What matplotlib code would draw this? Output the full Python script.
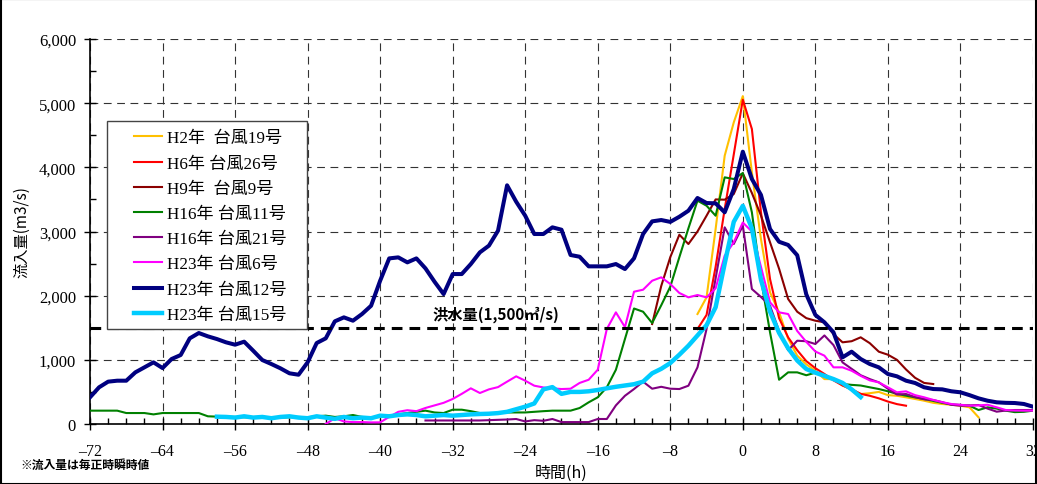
import matplotlib
matplotlib.use("Agg")
import matplotlib.pyplot as plt
from matplotlib.ticker import MultipleLocator, FuncFormatter
from matplotlib.patches import Rectangle

plt.rcParams['font.family'] = ['Liberation Serif', 'Noto Sans CJK JP', 'DejaVu Sans']

# ---------------- data ----------------
series_labels = ["H2年  台風19号", "H6年 台風26号", "H9年  台風9号", "H16年 台風11号",
                 "H16年 台風21号", "H23年 台風6号", "H23年 台風12号", "H23年 台風15号"]
series_colors = ["#FFC000", "#FF0000", "#8B0000", "#008000",
                 "#800080", "#FF00FF", "#000080", "#00CCFF"]

h2_start = -5
h2_19 = [1714, 1974, 3039, 4181, 4700, 5110, 3922, 2883, 2052, 1740, 1330, 1065, 930, 830, 700, 700,
         600, 540, 467, 480, 500, 450, 440, 416, 390, 363, 330, 312, 300, 285, 260, 104]

h6_start = -5
h6_26 = [1480, 1700, 2450, 3350, 4200, 5054, 4597, 3300, 2260, 1650, 1350, 1150, 980, 870, 780, 680,
         600, 540, 470, 440, 400, 350, 310, 285]

h9_start = -10
h9_9 = [1558, 2150, 2600, 2950, 2805, 3000, 3246, 3500, 3496, 3584,
        3907, 3600, 3250, 2832, 2420, 1948, 1750, 1650, 1610, 1585,
        1400, 1273, 1290, 1351, 1260, 1127, 1080, 1000, 850, 720, 640, 623]

h16_11_start = -72
h16_11 = [208, 208, 208, 208, 171, 171, 171, 150, 171, 171,
          171, 171, 171, 120, 115, 110, 110, 105, 105, 100,
          105, 100, 105, 110, 105, 120, 130, 110, 120, 140,
          110, 100, 110, 130, 150, 171, 190, 208, 180, 171,
          223, 223, 200, 171, 171, 171, 180, 180, 180, 190,
          200, 208, 208, 208, 249, 338, 416, 572, 845, 1325,
          1800, 1750, 1574, 1850, 2140, 2600, 3050, 3480, 3402, 3246,
          3844, 3818, 3911, 3299, 2260, 1429, 690, 805, 805, 760,
          800, 763, 701, 623, 610, 600, 572, 545, 510, 470,
          441, 415, 390, 360, 330, 305, 296, 285, 218, 260,
          240, 208, 185, 190, 208]

h16_21_start = -35
h16_21 = [55, 55, 55, 55, 55, 55, 55, 60, 65, 70,
          78, 40, 60, 50, 78, 30, 30, 30, 30, 78,
          78, 290, 440, 545, 660, 550, 580, 550, 545, 597,
          883, 1480, 2270, 3065, 2805, 3090, 2104, 1980, 1843, 1450,
          1150, 1298, 1290, 1247, 1380, 1230, 960, 860, 760, 700,
          649, 550, 460, 467, 420, 385, 374, 340, 300, 285,
          290, 296, 240, 192, 210, 218, 218, 218]

h23_6_start = -46
h23_6 = [0, 90, 40, 30, 30, 25, 26, 110, 190, 215,
         200, 250, 290, 330, 390, 470, 556, 483, 540, 575,
         660, 743, 675, 597, 570, 556, 545, 550, 640, 690,
         846, 1480, 1740, 1510, 2062, 2093, 2233, 2286, 2182, 2042,
         1974, 2010, 1974, 2114, 2623, 2832, 3140, 3000, 2450, 1896,
         1740, 1714, 1450, 1280, 1130, 1065, 883, 883, 830, 750,
         680, 649, 572, 494, 509, 450, 416, 375, 340, 312,
         300, 285, 290, 300, 260, 218, 210, 208, 208]

h23_12_start = -72
h23_12 = [416, 572, 660, 675, 675, 805, 883, 961, 872, 1013,
          1075, 1335, 1418, 1366, 1324, 1273, 1236, 1283, 1142, 997,
          935, 868, 790, 768, 961, 1262, 1335, 1600, 1662, 1610,
          1714, 1843, 2233, 2581, 2597, 2519, 2581, 2425, 2217, 2025,
          2337, 2337, 2493, 2675, 2780, 3013, 3720, 3465, 3246, 2961,
          2961, 3065, 3028, 2634, 2607, 2457, 2457, 2457, 2493, 2415,
          2582, 2961, 3158, 3179, 3150, 3230, 3324, 3522, 3444, 3439,
          3299, 3662, 4244, 3818, 3570, 3039, 2840, 2790, 2630, 2020,
          1700, 1585, 1429, 1039, 1127, 1013, 935, 883, 779, 743,
          675, 639, 572, 545, 540, 510, 494, 450, 400, 363,
          338, 330, 327, 312, 270]

h23_15_start = -58
h23_15 = [114, 110, 100, 120, 100, 110, 90, 110, 120, 100,
          90, 120, 100, 80, 110, 90, 100, 90, 130, 120,
          140, 150, 140, 120, 130, 140, 130, 140, 150, 156,
          160, 170, 190, 230, 270, 320, 540, 575, 470, 500,
          500, 510, 530, 556, 580, 600, 620, 660, 790, 860,
          950, 1080, 1220, 1380, 1540, 1820, 2500, 3150, 3400, 3050,
          2250, 1750, 1420, 1180, 990, 857, 800, 750, 700, 640,
          540, 420]

series_starts = [h2_start, h6_start, h9_start, h16_11_start, h16_21_start,
                 h23_6_start, h23_12_start, h23_15_start]
series_values = [h2_19, h6_26, h9_9, h16_11, h16_21, h23_6, h23_12, h23_15]
series_widths = [1.5, 1.5, 1.5, 1.5, 1.5, 1.5, 2.9, 3.2]

flood_level = 1500
flood_label = "洪水量(1,500㎥/s)"
x_ticks = list(range(-72, 33, 8))

# ---------------- figure ----------------
fig = plt.figure(figsize=(10.37, 4.85), dpi=100)
ax = fig.add_axes([0.0868, 0.1237, 0.9093, 0.7938])

for lab, col, st, vals, lw in zip(series_labels, series_colors, series_starts,
                                  series_values, series_widths):
    xs = list(range(st, st + len(vals)))
    ax.plot(xs, vals, color=col, lw=lw, label=lab, zorder=3)

ax.axhline(flood_level, color='black', lw=2.2, linestyle=(0, (3.5, 2.3)), zorder=4)
ax.text(-34.2, 1720, flood_label, fontsize=11, fontweight='bold',
        family=['Noto Sans CJK JP', 'DejaVu Sans'], va='center', ha='left', zorder=5)

ax.set_xlim(-72, 32)
ax.set_ylim(0, 6000)
ax.set_xticks(x_ticks)
ax.xaxis.set_minor_locator(MultipleLocator(2))
ax.yaxis.set_major_locator(MultipleLocator(1000))
ax.yaxis.set_minor_locator(MultipleLocator(500))
ax.yaxis.set_major_formatter(FuncFormatter(lambda v, p: f"{int(v):,}"))
ax.xaxis.set_major_formatter(FuncFormatter(lambda v, p: f"{int(v)}".replace('-', '\u2013')))

ax.grid(True, which='major', color='#333333', lw=0.8, linestyle=(0, (7, 5)))
ax.set_axisbelow(True)
for s in ['top', 'right']:
    ax.spines[s].set_visible(False)
ax.spines['left'].set_linewidth(1.2)
ax.spines['bottom'].set_linewidth(1.2)

ax.tick_params(axis='both', which='major', direction='inout', length=8, width=1, pad=6)
ax.tick_params(axis='y', which='major', labelsize=12)
ax.tick_params(axis='x', which='major', labelsize=11.5, pad=10)
ax.tick_params(axis='both', which='minor', direction='in', length=4, width=1)

ax.set_ylabel("流入量(m3/s)", fontsize=11, family=['Noto Sans CJK JP', 'DejaVu Sans'],
              labelpad=6)
ax.set_xlabel("時間(h)", fontsize=11.5, family=['Noto Sans CJK JP', 'DejaVu Sans'],
              labelpad=3)

# legend frame (drawn separately for Excel-like padding)
ax.add_patch(Rectangle((0.018, 0.247), 0.212, 0.540, transform=ax.transAxes,
                       facecolor='white', edgecolor='#444444', lw=1.0, zorder=6))
leg = ax.legend(loc='upper left', bbox_to_anchor=(0.0467, 0.763), frameon=False,
                handlelength=1.65, handletextpad=0.3, labelspacing=0.54,
                borderpad=0, borderaxespad=0,
                prop={'family': ['Liberation Serif', 'Noto Sans CJK JP'], 'size': 12.3})
leg.set_zorder(7)

fig.text(0.02, 0.04, "※流入量は毎正時瞬時値", fontsize=8.5, fontweight='bold',
         family=['Noto Sans CJK JP', 'DejaVu Sans'], ha='left', va='center')

fig.patches.append(Rectangle((0.001, 0.001), 0.998, 0.998, transform=fig.transFigure,
                             fill=False, edgecolor='black', lw=1.5))

fig.savefig("out.png", dpi=100)
